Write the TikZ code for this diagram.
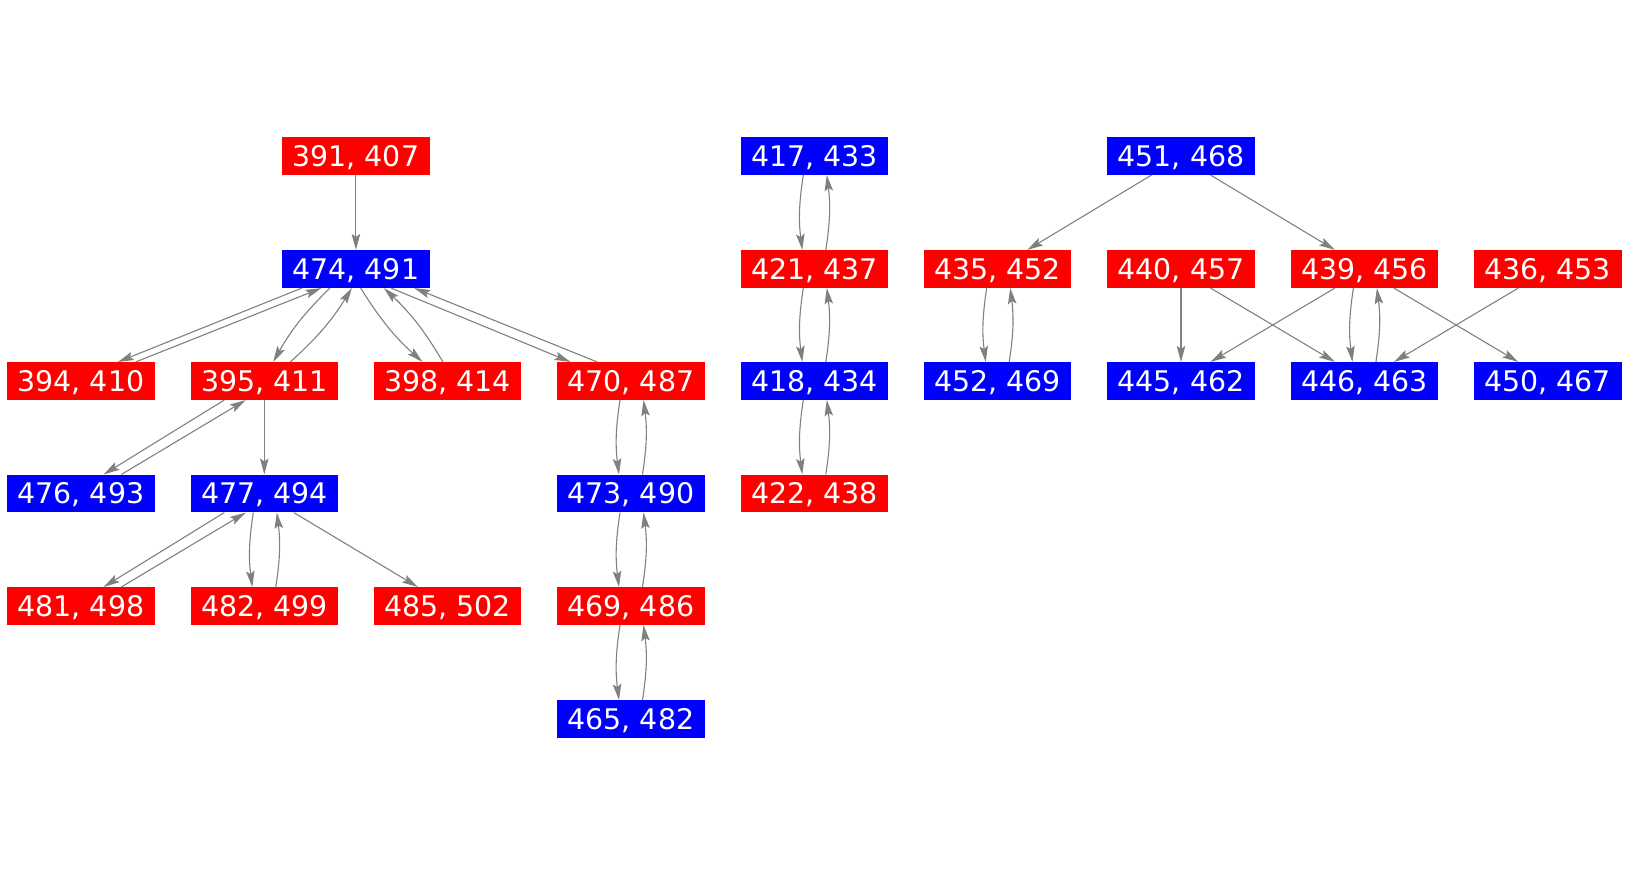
\documentclass[tikz,border=0pt]{standalone}
\usepackage{fontspec}
\setmainfont{DejaVu Sans}
\usetikzlibrary{arrows.meta}
\definecolor{edgegray}{RGB}{128,128,128}
\begin{document}
\begin{tikzpicture}[x=1pt,y=-1pt,
 box/.style={minimum width=147.5pt,minimum height=37.7pt,inner sep=0pt,text=white,
   font=\fontsize{28.4}{30}\selectfont,text height=20.7pt,text depth=0pt},
 redbox/.style={box,fill=red},
 bluebox/.style={box,fill=blue},
 edge/.style={draw=edgegray,line width=1.1pt,-{Stealth[length=16pt,width=8.5pt,inset=3pt]}},
 lens/.style={edge,bend right=8}]
\useasboundingbox (0,0) rectangle (1629,875);
% nodes
\node[redbox]  (n391) at (355.9,156)   {391, 407};
\node[bluebox] (n474) at (355.9,269)   {474, 491};
\node[redbox]  (n394) at (81,381)      {394, 410};
\node[redbox]  (n395) at (264.3,381)   {395, 411};
\node[redbox]  (n398) at (447.7,381)   {398, 414};
\node[redbox]  (n470) at (631,381)     {470, 487};
\node[bluebox] (n476) at (81,493.5)    {476, 493};
\node[bluebox] (n477) at (264.3,493.5) {477, 494};
\node[bluebox] (n473) at (631,493.5)   {473, 490};
\node[redbox]  (n481) at (81,606)      {481, 498};
\node[redbox]  (n482) at (264.3,606)   {482, 499};
\node[redbox]  (n485) at (447.7,606)   {485, 502};
\node[redbox]  (n469) at (631,606)     {469, 486};
\node[bluebox] (n465) at (631,719)     {465, 482};
\node[bluebox] (n417) at (814.3,156)   {417, 433};
\node[redbox]  (n421) at (814.3,269)   {421, 437};
\node[bluebox] (n418) at (814.3,381)   {418, 434};
\node[redbox]  (n422) at (814.3,493.5) {422, 438};
\node[bluebox] (n451) at (1181,156)    {451, 468};
\node[redbox]  (n435) at (997.7,269)   {435, 452};
\node[redbox]  (n440) at (1181,269)    {440, 457};
\node[redbox]  (n439) at (1364.4,269)  {439, 456};
\node[redbox]  (n436) at (1547.8,269)  {436, 453};
\node[bluebox] (n452) at (997.7,381)   {452, 469};
\node[bluebox] (n445) at (1181,381)    {445, 462};
\node[bluebox] (n446) at (1364.4,381)  {446, 463};
\node[bluebox] (n450) at (1547.8,381)  {450, 467};
% first tree
\draw[edge] (n391.south) -- (n474.north);
\draw[edge] ([xshift=-54pt]n474.south) -- ([xshift=36.9pt]n394.north);
\draw[edge] ([xshift=54.7pt]n394.north) -- ([xshift=-34.5pt]n474.south);
\draw[lens] ([xshift=-26pt]n474.south) to ([xshift=8.9pt]n395.north);
\draw[lens] ([xshift=26pt]n395.north) to ([xshift=-4pt]n474.south);
\draw[lens] ([xshift=4.8pt]n474.south) to ([xshift=-25.2pt]n398.north);
\draw[lens] ([xshift=-4.8pt]n398.north) to ([xshift=28pt]n474.south);
\draw[edge] ([xshift=35.1pt]n474.south) -- ([xshift=-60.5pt]n470.north);
\draw[edge] ([xshift=-33.9pt]n470.north) -- ([xshift=58.4pt]n474.south);
\draw[edge] ([xshift=-40pt]n395.south) -- ([xshift=22.6pt]n476.north);
\draw[edge] ([xshift=40.4pt]n476.north) -- ([xshift=-18.6pt]n395.south);
\draw[edge] (n395.south) -- (n477.north);
\draw[edge] ([xshift=-40pt]n477.south) -- ([xshift=22.6pt]n481.north);
\draw[edge] ([xshift=40.4pt]n481.north) -- ([xshift=-18.6pt]n477.south);
\draw[lens] ([xshift=-11pt]n477.south) to ([xshift=-12pt]n482.north);
\draw[lens] ([xshift=11.5pt]n482.north) to ([xshift=12.5pt]n477.south);
\draw[edge] ([xshift=29.5pt]n477.south) -- ([xshift=-29.9pt]n485.north);
% chain 470-473-469-465
\draw[lens] ([xshift=-11pt]n470.south) to ([xshift=-12pt]n473.north);
\draw[lens] ([xshift=11.5pt]n473.north) to ([xshift=12.5pt]n470.south);
\draw[lens] ([xshift=-11pt]n473.south) to ([xshift=-12pt]n469.north);
\draw[lens] ([xshift=11.5pt]n469.north) to ([xshift=12.5pt]n473.south);
\draw[lens] ([xshift=-11pt]n469.south) to ([xshift=-12pt]n465.north);
\draw[lens] ([xshift=11.5pt]n465.north) to ([xshift=12.5pt]n469.south);
% chain 417-421-418-422
\draw[lens] ([xshift=-11pt]n417.south) to ([xshift=-12pt]n421.north);
\draw[lens] ([xshift=11.5pt]n421.north) to ([xshift=12.5pt]n417.south);
\draw[lens] ([xshift=-11pt]n421.south) to ([xshift=-12pt]n418.north);
\draw[lens] ([xshift=11.5pt]n418.north) to ([xshift=12.5pt]n421.south);
\draw[lens] ([xshift=-11pt]n418.south) to ([xshift=-12pt]n422.north);
\draw[lens] ([xshift=11.5pt]n422.north) to ([xshift=12.5pt]n418.south);
% right group
\draw[edge] ([xshift=-29.5pt]n451.south) -- ([xshift=29.5pt]n435.north);
\draw[edge] ([xshift=29.5pt]n451.south) -- ([xshift=-29.5pt]n439.north);
\draw[lens] ([xshift=-11pt]n435.south) to ([xshift=-12pt]n452.north);
\draw[lens] ([xshift=11.5pt]n452.north) to ([xshift=12.5pt]n435.south);
\draw[edge] (n440.south) -- (n445.north);
\draw[edge] ([xshift=29.5pt]n440.south) -- ([xshift=-29.5pt]n446.north);
\draw[edge] ([xshift=-29.5pt]n439.south) -- ([xshift=29.5pt]n445.north);
\draw[lens] ([xshift=-11pt]n439.south) to ([xshift=-12pt]n446.north);
\draw[lens] ([xshift=11.5pt]n446.north) to ([xshift=12.5pt]n439.south);
\draw[edge] ([xshift=29.5pt]n439.south) -- ([xshift=-29.5pt]n450.north);
\draw[edge] ([xshift=-29.5pt]n436.south) -- ([xshift=29.5pt]n446.north);
\end{tikzpicture}
\end{document}
